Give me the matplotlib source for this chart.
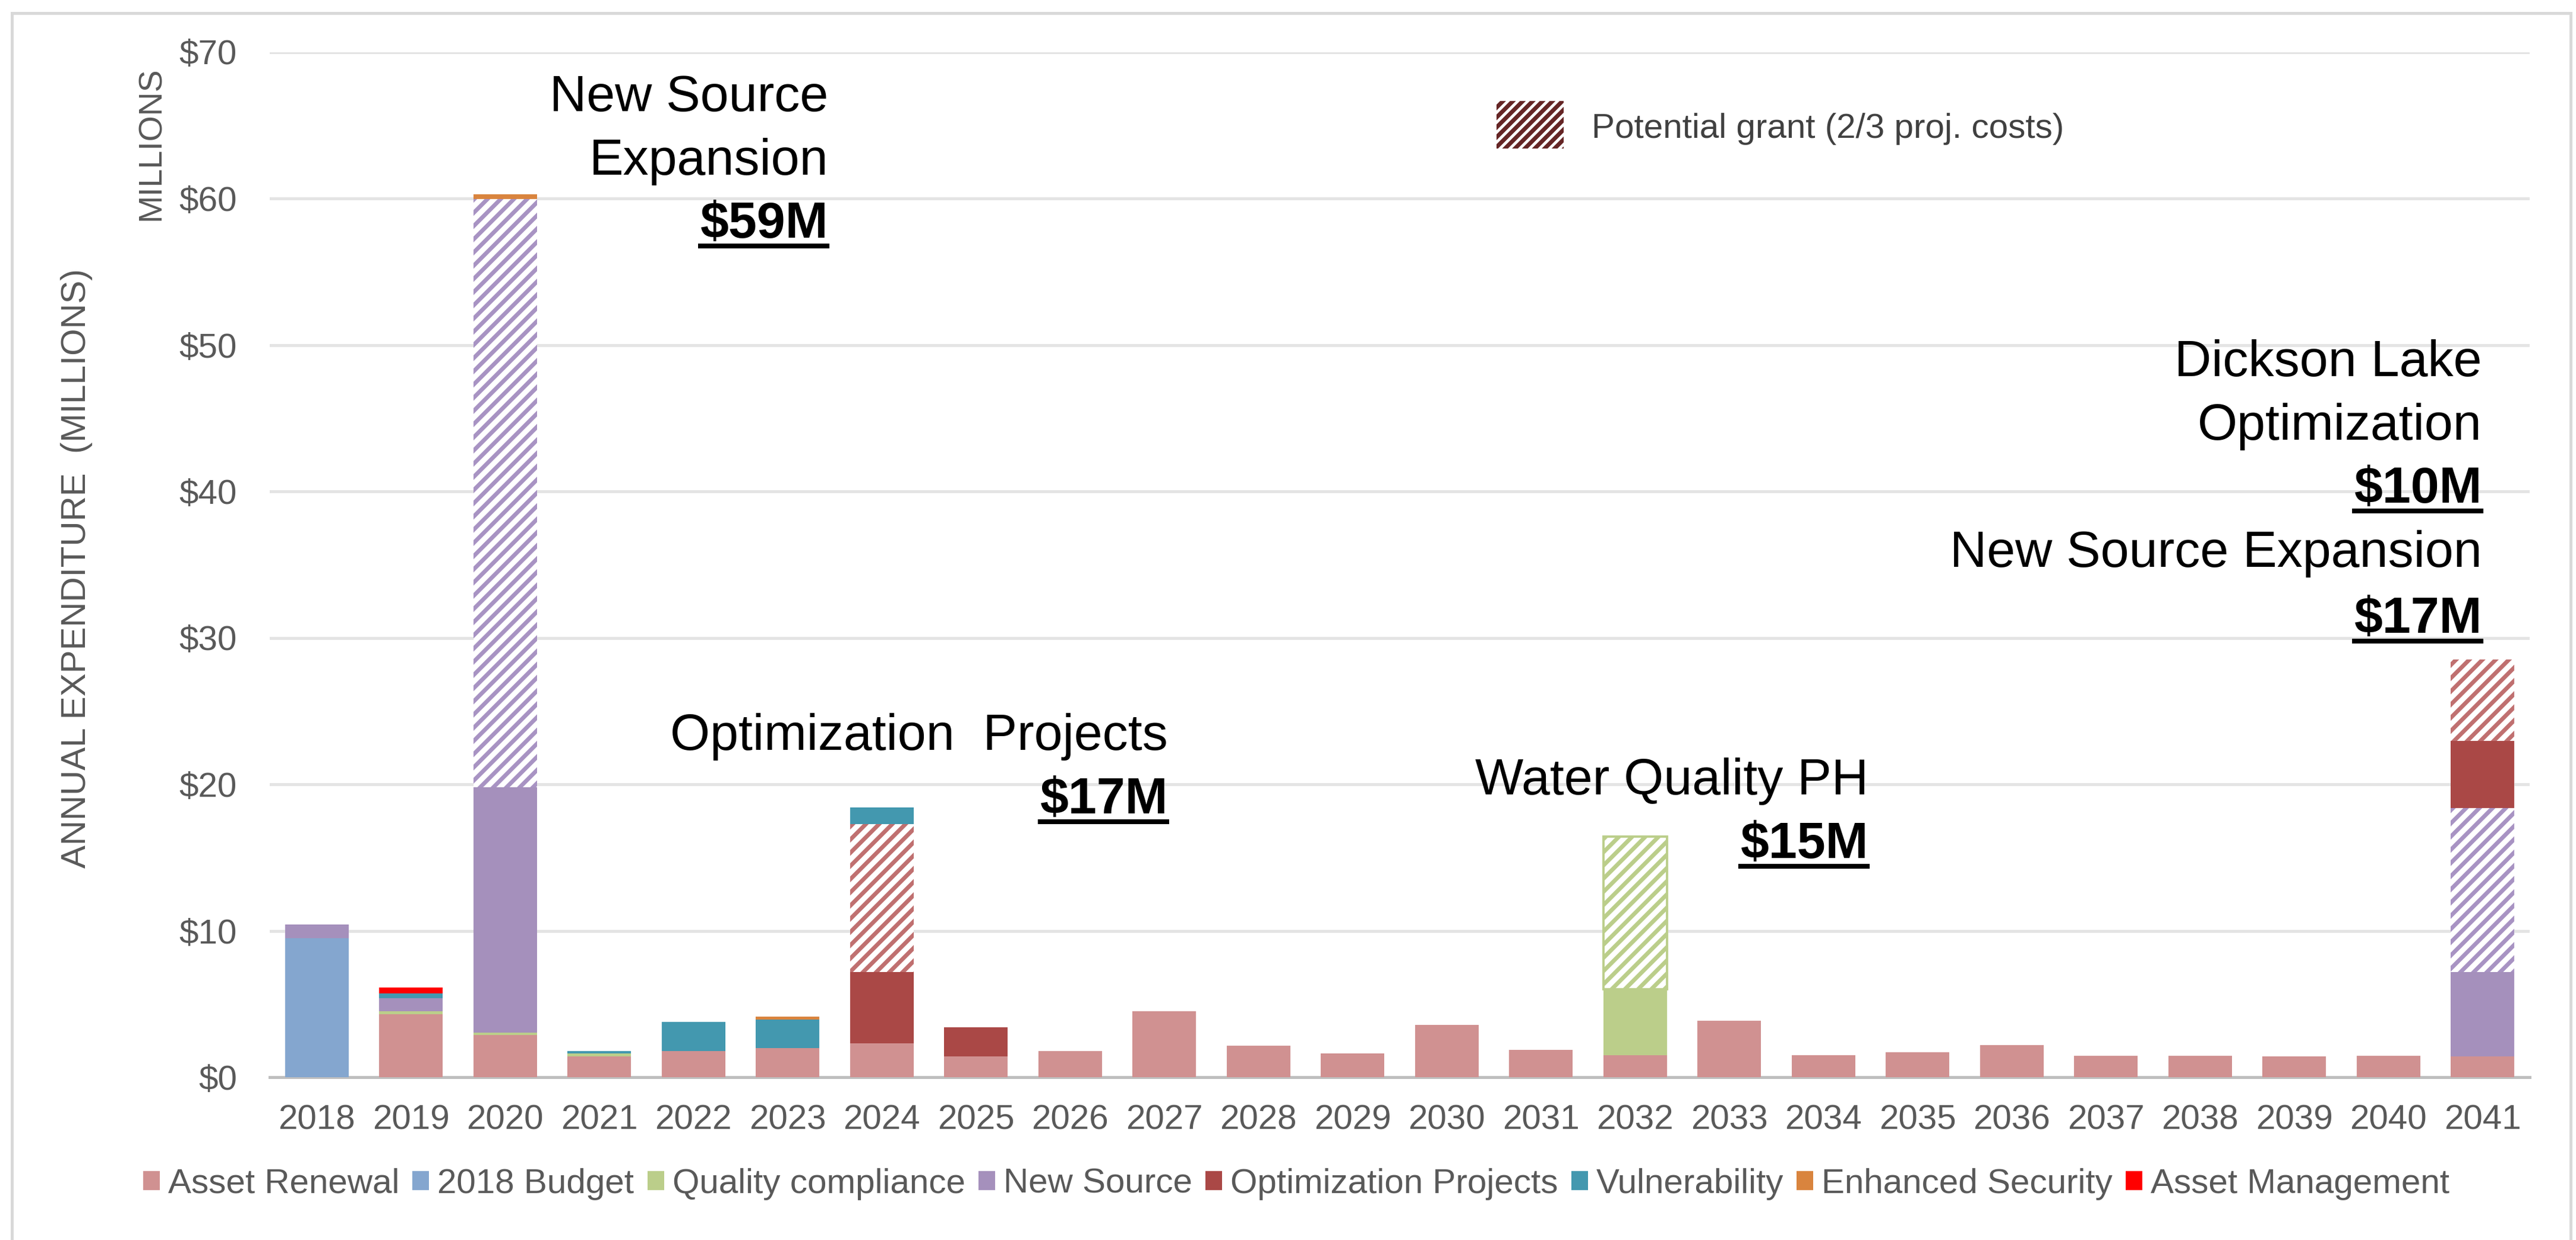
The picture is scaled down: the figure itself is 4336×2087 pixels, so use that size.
import numpy as np
import matplotlib.pyplot as plt
import matplotlib.patches as mpatches
from matplotlib.lines import Line2D

plt.rcParams['font.family'] = ['Liberation Sans', 'DejaVu Sans']
plt.rcParams['text.parse_math'] = False
plt.rcParams['hatch.linewidth'] = 2.5

# data ($ millions)
years = ['2018', '2019', '2020', '2021', '2022', '2023', '2024', '2025', '2026', '2027', '2028', '2029',
         '2030', '2031', '2032', '2033', '2034', '2035', '2036', '2037', '2038', '2039', '2040', '2041']

asset_renewal = [0, 4.28, 2.87, 1.42, 1.78, 1.99, 2.31, 1.42, 1.78, 4.49, 2.14, 1.61,
                 3.55, 1.85, 1.49, 3.86, 1.49, 1.71, 2.20, 1.45, 1.45, 1.43, 1.45, 1.43]
budget_2018 = [9.50, 0, 0, 0, 0, 0, 0, 0, 0, 0, 0, 0,
               0, 0, 0, 0, 0, 0, 0, 0, 0, 0, 0, 0]
quality = [0, 0.21, 0.16, 0.20, 0, 0, 0, 0, 0, 0, 0, 0,
           0, 0, 4.50, 0, 0, 0, 0, 0, 0, 0, 0, 0]
quality_grant = [0, 0, 0, 0, 0, 0, 0, 0, 0, 0, 0, 0,
                 0, 0, 10.46, 0, 0, 0, 0, 0, 0, 0, 0, 0]
new_source = [0.92, 0.90, 16.77, 0, 0, 0, 0, 0, 0, 0, 0, 0,
              0, 0, 0, 0, 0, 0, 0, 0, 0, 0, 0, 5.76]
new_source_grant = [0, 0, 40.15, 0, 0, 0, 0, 0, 0, 0, 0, 0,
                    0, 0, 0, 0, 0, 0, 0, 0, 0, 0, 0, 11.18]
optimization = [0, 0, 0, 0, 0, 0, 4.87, 1.99, 0, 0, 0, 0,
                0, 0, 0, 0, 0, 0, 0, 0, 0, 0, 0, 4.60]
optimization_grant = [0, 0, 0, 0, 0, 0, 10.12, 0, 0, 0, 0, 0,
                      0, 0, 0, 0, 0, 0, 0, 0, 0, 0, 0, 5.53]
vulnerability = [0, 0.35, 0, 0.16, 1.99, 1.95, 1.10, 0, 0, 0, 0, 0,
                 0, 0, 0, 0, 0, 0, 0, 0, 0, 0, 0, 0]
security = [0, 0, 0.35, 0, 0, 0.20, 0, 0, 0, 0, 0, 0,
            0, 0, 0, 0, 0, 0, 0, 0, 0, 0, 0, 0]
asset_mgmt = [0, 0.38, 0, 0, 0, 0, 0, 0, 0, 0, 0, 0,
              0, 0, 0, 0, 0, 0, 0, 0, 0, 0, 0, 0]

legend_names = ['Asset Renewal', '2018 Budget', 'Quality compliance', 'New Source',
                'Optimization Projects', 'Vulnerability', 'Enhanced Security', 'Asset Management']
colors = ['#D09191', '#84A6CF', '#BBCE8A', '#A590BC', '#AA4846', '#4398AF', '#D9843E', '#FF0000']

# stacking order bottom -> top : (values, colour, hatched?)
segments = [
    (asset_renewal, colors[0], False),
    (budget_2018, colors[1], False),
    (quality, colors[2], False),
    (quality_grant, '#BBCE8A', True),
    (new_source, colors[3], False),
    (new_source_grant, '#A893C3', True),
    (optimization, colors[4], False),
    (optimization_grant, '#C07070', True),
    (vulnerability, colors[5], False),
    (security, colors[6], False),
    (asset_mgmt, colors[7], False),
]

W, H, DPI = 4336, 2087, 200
fig = plt.figure(figsize=(W / DPI, H / DPI), dpi=DPI)
ax = fig.add_axes([454 / W, 1 - 1813 / H, (4258 - 454) / W, (1813 - 87.5) / H])

x = np.arange(len(years))
bottom = np.zeros(len(years))
for vals, col, hatched in segments:
    v = np.array(vals, dtype=float)
    m = v > 0
    if hatched:
        lw = 1.4 if vals is quality_grant else 0
        ax.bar(x[m], v[m], 0.675, bottom=bottom[m], color='white', edgecolor=col,
               hatch='///', linewidth=lw, zorder=3)
    else:
        ax.bar(x[m], v[m], 0.675, bottom=bottom[m], color=col, linewidth=0, zorder=3)
    bottom += v

ax.set_xlim(-0.5, len(years) - 0.5)
ax.set_ylim(0, 70)
ax.set_yticks(range(0, 71, 10))
ax.set_yticklabels(['$%d' % t for t in range(0, 71, 10)])
ax.set_xticks(x)
ax.set_xticklabels(years)
ax.tick_params(axis='y', length=0, pad=19.8, labelsize=21, labelcolor='#595959')
ax.tick_params(axis='x', length=0, pad=16.5, labelsize=21, labelcolor='#595959')
ax.grid(axis='y', color='#E4E4E4', linewidth=1.8)
ax.set_axisbelow(True)
for s in ['top', 'right', 'left']:
    ax.spines[s].set_visible(False)
ax.spines['bottom'].set_color('#BFBFBF')
ax.spines['bottom'].set_linewidth(1.8)

# axis titles
fig.text(129 / W, 1 - 957 / H, 'ANNUAL EXPENDITURE  (MILLIONS)', rotation=90, ha='center',
         va='center', fontsize=21, color='#595959')
fig.text(255 / W, 1 - 242 / H, 'MILLIONS', rotation=90, ha='center', va='center',
         fontsize=20, color='#595959')

# bottom legend
handles = [mpatches.Patch(facecolor=c, edgecolor='none') for c in colors]
fig.legend(handles, legend_names, loc='center', bbox_to_anchor=(2182 / W, 1 - 1993 / H),
           ncol=8, frameon=False, fontsize=21, labelcolor='#595959',
           handlelength=0.48, handleheight=0.47, handletextpad=0.24, columnspacing=0.38)

# potential grant key
fig.add_artist(mpatches.Rectangle((2519 / W, 1 - 250 / H), 113 / W, 80 / H,
                                  transform=fig.transFigure, facecolor='white',
                                  edgecolor='#652525', hatch='////', linewidth=0))
fig.text(2679 / W, 1 - 232 / H, 'Potential grant (2/3 proj. costs)', ha='left',
         va='baseline', fontsize=21, color='#404040')

# callouts
notes = [
    (5.431, [(65.96, 'New Source', False), (61.62, 'Expansion', False), (57.32, '$59M', True)]),
    (9.039, [(22.35, 'Optimization  Projects', False), (18.01, '$17M', True)]),
    (16.478, [(19.31, 'Water Quality PH', False), (14.97, '$15M', True)]),
    (22.995, [(47.87, 'Dickson Lake', False), (43.53, 'Optimization', False),
              (39.23, '$10M', True), (34.85, 'New Source Expansion', False),
              (30.34, '$17M', True)]),
]
bold_texts = []
for xr, lines in notes:
    for yb, s, bold in lines:
        t = ax.text(xr, yb, s, ha='right', va='baseline', fontsize=31,
                    fontweight='bold' if bold else 'normal', color='black', zorder=5)
        if bold:
            bold_texts.append(t)

fig.canvas.draw()
r = fig.canvas.get_renderer()
for t in bold_texts:
    bb = t.get_window_extent(r)
    yb = ax.transData.transform(t.get_position())[1] - 14
    fig.add_artist(Line2D([(bb.x0 - 4) / W, (bb.x1 + 2) / W], [yb / H, yb / H],
                          transform=fig.transFigure, color='black', linewidth=2.9,
                          solid_capstyle='butt'))

# outer frame
fig.add_artist(mpatches.Rectangle((20 / W, -0.02), (4327 - 20) / W, 1.02 - 22 / H,
                                  transform=fig.transFigure, fill=False,
                                  edgecolor='#D9D9D9', linewidth=1.8))

fig.savefig('out.png', dpi=DPI)
